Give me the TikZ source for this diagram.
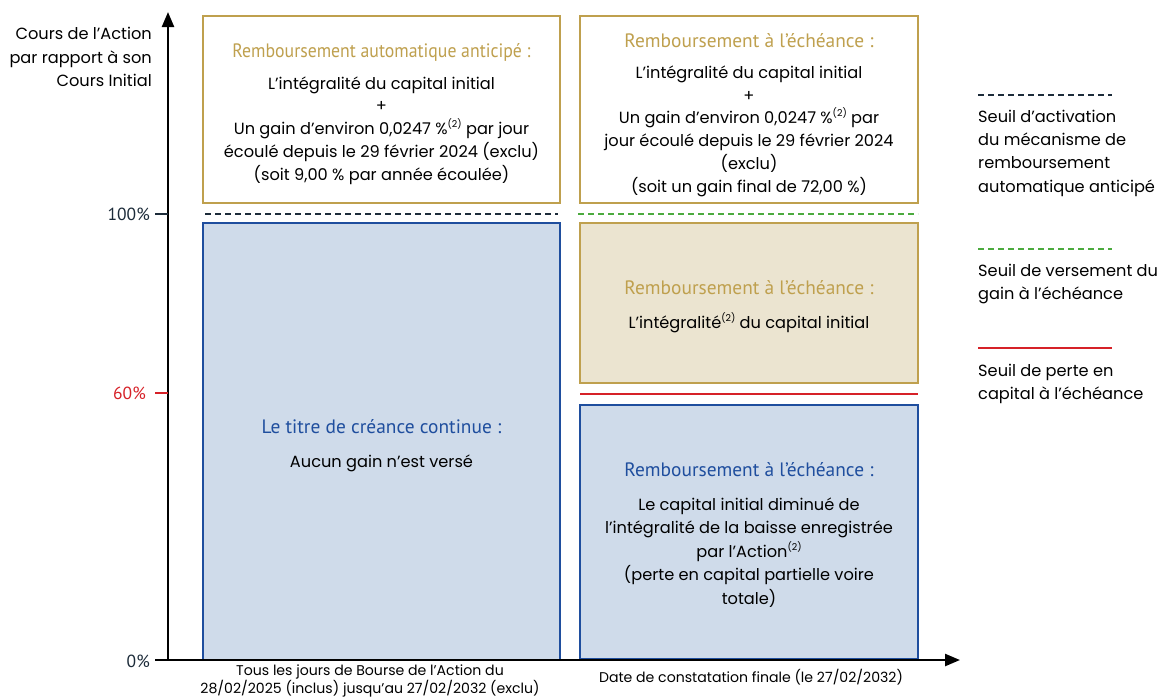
\documentclass[tikz,border=0pt]{standalone}
\usepackage{fontspec}
\setmainfont{Poppins}
\newfontfamily\ttlfont{PT Sans}
\newfontfamily\ttlcond[FakeStretch=0.915]{PT Sans}
\usetikzlibrary{arrows.meta}
\definecolor{gold}{HTML}{BFA04E}
\definecolor{navy}{HTML}{1C2B39}
\definecolor{grn}{HTML}{4BAA3E}
\definecolor{redl}{HTML}{D62128}
\definecolor{blueb}{HTML}{1F4E9E}
\definecolor{bluef}{HTML}{CFDBEA}
\definecolor{beige}{HTML}{EBE4D0}
\newcommand{\supr}[1]{\raisebox{0.42em}{\fontsize{9.5}{9.5}\selectfont #1}}
\begin{document}
\begin{tikzpicture}[x=1pt,y=-1pt,
  body/.style={font=\fontsize{16.2}{22.8}\selectfont, text=black},
  boxtext/.style={body, align=center, inner sep=0pt},
  goldbox/.style={draw=gold, line width=2pt, fill=white, inner sep=0pt},
  beigebox/.style={draw=gold, line width=2pt, fill=beige, inner sep=0pt},
  bluebox/.style={draw=blueb, line width=2pt, fill=bluef, inner sep=0pt},
  axis/.style={line width=2.4pt, -{Triangle[length=15pt,width=12pt]}},
  pct/.style={font=\ttlfont\fontsize{17.5}{20}\selectfont, anchor=east, inner sep=0pt},
  legtxt/.style={anchor=west, align=left, inner sep=0pt, font=\fontsize{16.2}{23.3}\selectfont},
  dashnavy/.style={draw=navy, line width=2pt, dash pattern=on 6pt off 4pt},
  dashgreen/.style={draw=grn, line width=2pt, dash pattern=on 6pt off 4pt},
  redline/.style={draw=redl, line width=2.4pt},
  botlab/.style={font=\fontsize{14.1}{18}\selectfont, align=center, inner sep=0pt}
]
\newcommand{\ttlgold}[1]{{\ttlfont\fontsize{19.4}{22}\selectfont\color{gold}#1}}
\newcommand{\ttlgoldc}[1]{{\ttlcond\fontsize{19.4}{22}\selectfont\color{gold}#1}}
\newcommand{\ttlblue}[1]{{\ttlfont\fontsize{19.4}{22}\selectfont\color{blueb}#1}}
\useasboundingbox (0,0) rectangle (1165,697);

% boxes
\node[goldbox, minimum width=357pt, minimum height=187pt] (aa) at (381.5,109.5) {};
\node[boxtext] (aat) at (381.5,114)
 {\ttlgoldc{Remboursement automatique anticipé :}\\[9pt]
  L’intégralité du capital initial\\
  +\\
  Un gain d’environ 0,0247~\%\supr{(2)} par jour\\
  écoulé depuis le 29 février 2024 (exclu)\\
  (soit 9,00~\% par année écoulée)};
\node[goldbox, minimum width=338pt, minimum height=187pt] (ech) at (749,109.5) {};
\node[boxtext] (echt) at (749,115)
 {\ttlgold{Remboursement à l’échéance :}\\[8pt]
  L’intégralité du capital initial\\
  +\\
  Un gain d’environ 0,0247~\%\supr{(2)} par\\
  jour écoulé depuis le 29 février 2024\\
  (exclu)\\
  (soit un gain final de 72,00~\%)};
\node[bluebox, minimum width=357pt, minimum height=437pt] (cont) at (381.5,441.5) {};
\node[boxtext] (contt) at (381.5,445.5)
 {\ttlblue{Le titre de créance continue :}\\[11pt]
  Aucun gain n’est versé};
\node[beigebox, minimum width=338pt, minimum height=160pt] (cap) at (749,303) {};
\node[boxtext] (capt) at (749,306.5)
 {\ttlgold{Remboursement à l’échéance :}\\[11pt]
  L’intégralité\supr{(2)} du capital initial};
\node[bluebox, minimum width=338pt, minimum height=254pt] (perte) at (749,532) {};
\node[boxtext, font=\fontsize{16.2}{23.6}\selectfont] (pertet) at (749,535)
 {\ttlblue{Remboursement à l’échéance :}\\[10pt]
  Le capital initial diminué de\\
  l’intégralité de la baisse enregistrée\\
  par l’Action\supr{(2)}\\
  (perte en capital partielle voire\\
  totale)};

% thresholds
\coordinate (n1) at (205,214); \coordinate (n2) at (558,214);
\coordinate (g1) at (578,214); \coordinate (g2) at (918,214);
\coordinate (r1) at (580,394); \coordinate (r2) at (918,394);
\draw[dashnavy] (n1) -- (n2);
\draw[dashgreen] (g1) -- (g2);
\draw[redline] (r1) -- (r2);

% axes
\coordinate (o) at (168,660);
\coordinate (ytop) at (168,12);
\coordinate (xl) at (155,660);
\coordinate (xend) at (960,660);
\draw[axis] (o) -- (ytop);
\draw[axis] (xl) -- (xend);
\coordinate (t100) at (155,214); \coordinate (a100) at (168,214);
\coordinate (t60) at (155,393); \coordinate (a60) at (168,393);
\draw[navy, line width=2pt] (t100) -- (a100);
\draw[redl, line width=2pt] (t60) -- (a60);
\node[pct, text=navy] (p100) at (150,214) {100\%};
\node[pct, text=redl] (p60) at (146,393) {60\%};
\node[pct, text=navy] (p0) at (150,661) {0\%};

\node[anchor=east, align=right, inner sep=0pt, font=\fontsize{16.2}{23.5}\selectfont] (ylab) at (152,57)
 {Cours de l’Action\\par rapport à son\\Cours Initial};

\node[botlab] (b1) at (370,681) {Tous les jours de Bourse de l’Action du\\28/02/2025 (inclus) jusqu’au 27/02/2032 (exclu)};
\node[botlab] (b2) at (751,677) {Date de constatation finale (le 27/02/2032)};

% legend
\coordinate (l1a) at (978,95); \coordinate (l1b) at (1112,95);
\coordinate (l2a) at (978,249); \coordinate (l2b) at (1112,249);
\coordinate (l3a) at (978,348); \coordinate (l3b) at (1112,348);
\draw[dashnavy] (l1a) -- (l1b);
\draw[dashgreen] (l2a) -- (l2b);
\draw[redline] (l3a) -- (l3b);
\node[legtxt] (lg1) at (978,153) {Seuil d’activation\\du mécanisme de\\remboursement\\automatique anticipé};
\node[legtxt] (lg2) at (978,284) {Seuil de versement du\\gain à l’échéance};
\node[legtxt] (lg3) at (978,384) {Seuil de perte en\\capital à l’échéance};
\end{tikzpicture}
\end{document}
